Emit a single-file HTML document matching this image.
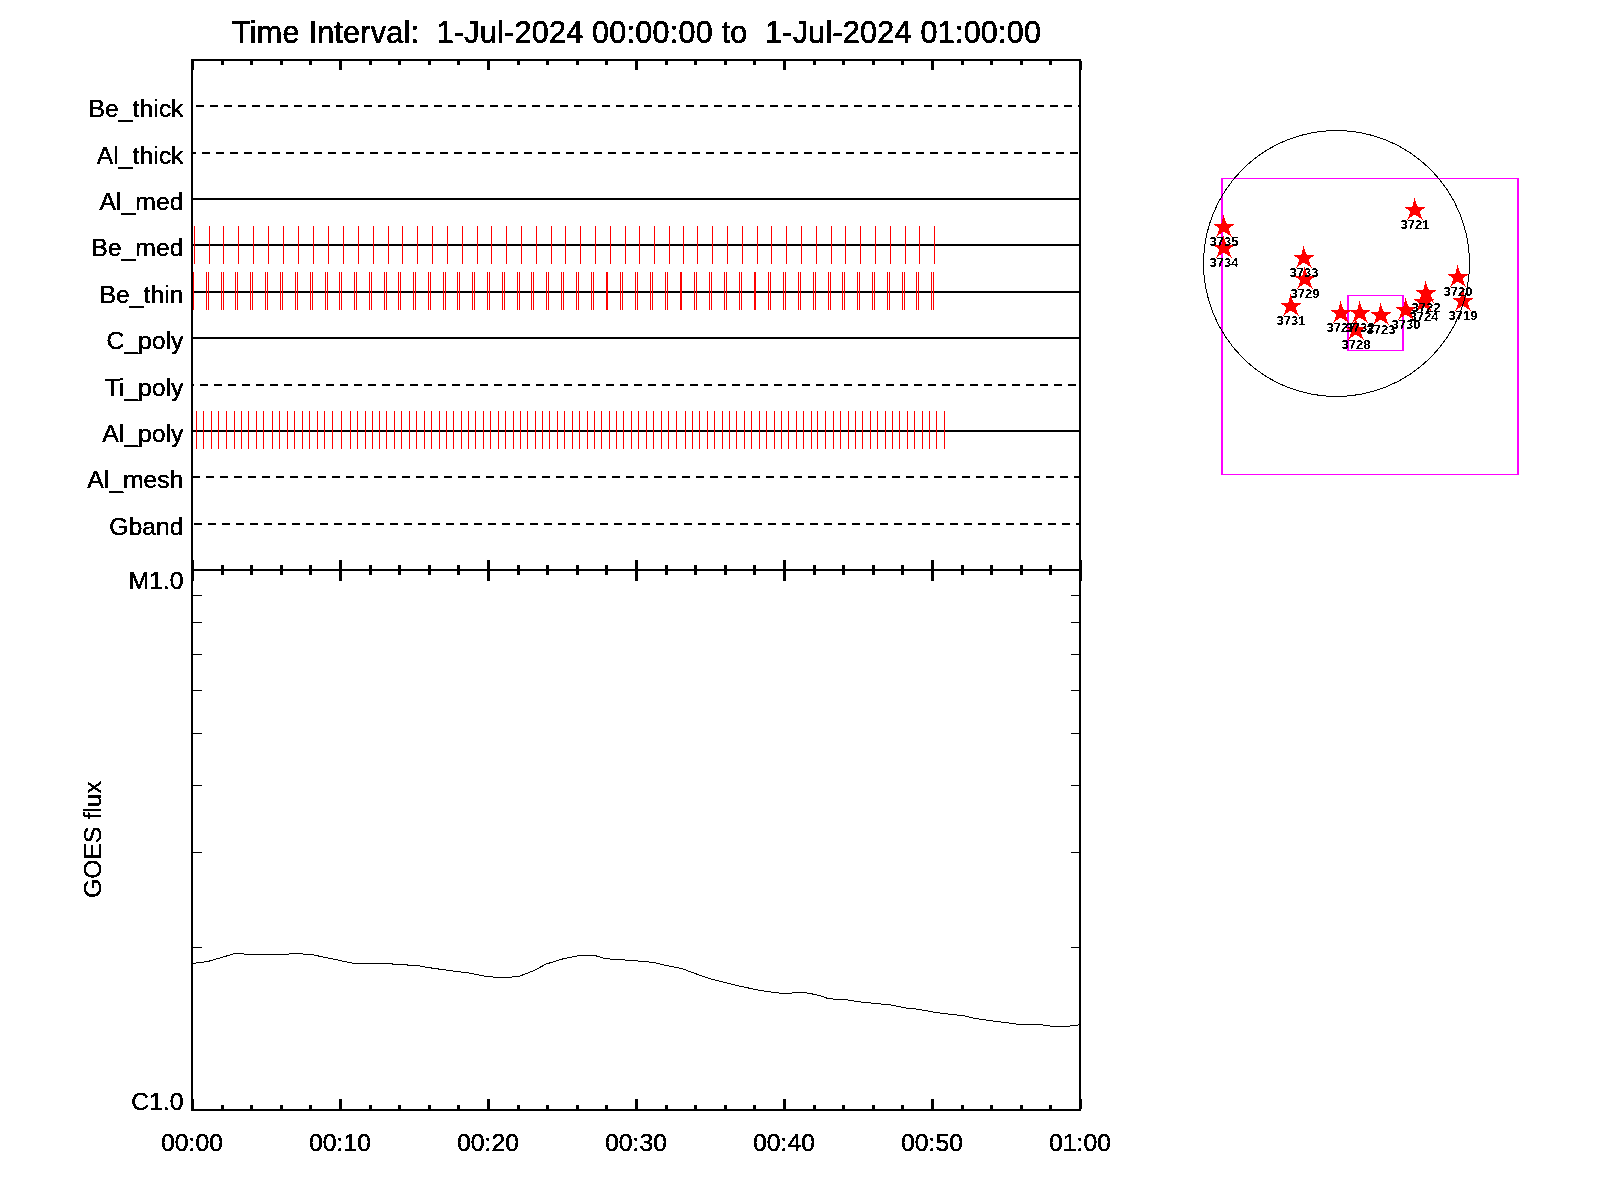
<!DOCTYPE html>
<html><head><meta charset="utf-8"><title>plot</title><style>
html,body{margin:0;padding:0;background:#fff;width:1600px;height:1200px;overflow:hidden}
svg{display:block}
text{font-family:"Liberation Sans",sans-serif;fill:#000;font-variant-ligatures:none;font-feature-settings:"liga" 0}
.title{font-size:30.5px;stroke:#000;stroke-width:0.6px}
.ax{font-size:24.75px;stroke:#000;stroke-width:0.4px}
.lab{font-size:13px;font-weight:bold;text-anchor:middle}
</style></head><body>
<svg width="1600" height="1200" viewBox="0 0 1600 1200">
<rect x="0" y="0" width="1600" height="1200" fill="#fff"/>
<g shape-rendering="crispEdges">
<rect x="191" y="59" width="890" height="2" fill="#000"/>
<rect x="191" y="59" width="2" height="1052" fill="#000"/>
<rect x="1079" y="59" width="2" height="1052" fill="#000"/>
<rect x="191" y="569" width="890" height="2" fill="#000"/>
<rect x="191" y="1109" width="890" height="2" fill="#000"/>
<rect x="191" y="61" width="3" height="9" fill="#000"/>
<rect x="191" y="560" width="3" height="21" fill="#000"/>
<rect x="191" y="1099" width="3" height="10" fill="#000"/>
<rect x="221" y="61" width="3" height="4" fill="#000"/>
<rect x="221" y="565" width="3" height="10" fill="#000"/>
<rect x="221" y="1105" width="3" height="4" fill="#000"/>
<rect x="250" y="61" width="3" height="4" fill="#000"/>
<rect x="250" y="565" width="3" height="10" fill="#000"/>
<rect x="250" y="1105" width="3" height="4" fill="#000"/>
<rect x="280" y="61" width="3" height="4" fill="#000"/>
<rect x="280" y="565" width="3" height="10" fill="#000"/>
<rect x="280" y="1105" width="3" height="4" fill="#000"/>
<rect x="309" y="61" width="3" height="4" fill="#000"/>
<rect x="309" y="565" width="3" height="10" fill="#000"/>
<rect x="309" y="1105" width="3" height="4" fill="#000"/>
<rect x="339" y="61" width="3" height="9" fill="#000"/>
<rect x="339" y="560" width="3" height="21" fill="#000"/>
<rect x="339" y="1099" width="3" height="10" fill="#000"/>
<rect x="369" y="61" width="3" height="4" fill="#000"/>
<rect x="369" y="565" width="3" height="10" fill="#000"/>
<rect x="369" y="1105" width="3" height="4" fill="#000"/>
<rect x="398" y="61" width="3" height="4" fill="#000"/>
<rect x="398" y="565" width="3" height="10" fill="#000"/>
<rect x="398" y="1105" width="3" height="4" fill="#000"/>
<rect x="428" y="61" width="3" height="4" fill="#000"/>
<rect x="428" y="565" width="3" height="10" fill="#000"/>
<rect x="428" y="1105" width="3" height="4" fill="#000"/>
<rect x="457" y="61" width="3" height="4" fill="#000"/>
<rect x="457" y="565" width="3" height="10" fill="#000"/>
<rect x="457" y="1105" width="3" height="4" fill="#000"/>
<rect x="487" y="61" width="3" height="9" fill="#000"/>
<rect x="487" y="560" width="3" height="21" fill="#000"/>
<rect x="487" y="1099" width="3" height="10" fill="#000"/>
<rect x="517" y="61" width="3" height="4" fill="#000"/>
<rect x="517" y="565" width="3" height="10" fill="#000"/>
<rect x="517" y="1105" width="3" height="4" fill="#000"/>
<rect x="546" y="61" width="3" height="4" fill="#000"/>
<rect x="546" y="565" width="3" height="10" fill="#000"/>
<rect x="546" y="1105" width="3" height="4" fill="#000"/>
<rect x="576" y="61" width="3" height="4" fill="#000"/>
<rect x="576" y="565" width="3" height="10" fill="#000"/>
<rect x="576" y="1105" width="3" height="4" fill="#000"/>
<rect x="605" y="61" width="3" height="4" fill="#000"/>
<rect x="605" y="565" width="3" height="10" fill="#000"/>
<rect x="605" y="1105" width="3" height="4" fill="#000"/>
<rect x="635" y="61" width="3" height="9" fill="#000"/>
<rect x="635" y="560" width="3" height="21" fill="#000"/>
<rect x="635" y="1099" width="3" height="10" fill="#000"/>
<rect x="665" y="61" width="3" height="4" fill="#000"/>
<rect x="665" y="565" width="3" height="10" fill="#000"/>
<rect x="665" y="1105" width="3" height="4" fill="#000"/>
<rect x="694" y="61" width="3" height="4" fill="#000"/>
<rect x="694" y="565" width="3" height="10" fill="#000"/>
<rect x="694" y="1105" width="3" height="4" fill="#000"/>
<rect x="724" y="61" width="3" height="4" fill="#000"/>
<rect x="724" y="565" width="3" height="10" fill="#000"/>
<rect x="724" y="1105" width="3" height="4" fill="#000"/>
<rect x="753" y="61" width="3" height="4" fill="#000"/>
<rect x="753" y="565" width="3" height="10" fill="#000"/>
<rect x="753" y="1105" width="3" height="4" fill="#000"/>
<rect x="783" y="61" width="3" height="9" fill="#000"/>
<rect x="783" y="560" width="3" height="21" fill="#000"/>
<rect x="783" y="1099" width="3" height="10" fill="#000"/>
<rect x="813" y="61" width="3" height="4" fill="#000"/>
<rect x="813" y="565" width="3" height="10" fill="#000"/>
<rect x="813" y="1105" width="3" height="4" fill="#000"/>
<rect x="842" y="61" width="3" height="4" fill="#000"/>
<rect x="842" y="565" width="3" height="10" fill="#000"/>
<rect x="842" y="1105" width="3" height="4" fill="#000"/>
<rect x="872" y="61" width="3" height="4" fill="#000"/>
<rect x="872" y="565" width="3" height="10" fill="#000"/>
<rect x="872" y="1105" width="3" height="4" fill="#000"/>
<rect x="901" y="61" width="3" height="4" fill="#000"/>
<rect x="901" y="565" width="3" height="10" fill="#000"/>
<rect x="901" y="1105" width="3" height="4" fill="#000"/>
<rect x="931" y="61" width="3" height="9" fill="#000"/>
<rect x="931" y="560" width="3" height="21" fill="#000"/>
<rect x="931" y="1099" width="3" height="10" fill="#000"/>
<rect x="961" y="61" width="3" height="4" fill="#000"/>
<rect x="961" y="565" width="3" height="10" fill="#000"/>
<rect x="961" y="1105" width="3" height="4" fill="#000"/>
<rect x="990" y="61" width="3" height="4" fill="#000"/>
<rect x="990" y="565" width="3" height="10" fill="#000"/>
<rect x="990" y="1105" width="3" height="4" fill="#000"/>
<rect x="1020" y="61" width="3" height="4" fill="#000"/>
<rect x="1020" y="565" width="3" height="10" fill="#000"/>
<rect x="1020" y="1105" width="3" height="4" fill="#000"/>
<rect x="1049" y="61" width="3" height="4" fill="#000"/>
<rect x="1049" y="565" width="3" height="10" fill="#000"/>
<rect x="1049" y="1105" width="3" height="4" fill="#000"/>
<rect x="1079" y="61" width="3" height="9" fill="#000"/>
<rect x="1079" y="560" width="3" height="21" fill="#000"/>
<rect x="1079" y="1099" width="3" height="10" fill="#000"/>
<rect x="193" y="947" width="9" height="1" fill="#000"/>
<rect x="1071" y="947" width="8" height="1" fill="#000"/>
<rect x="193" y="852" width="9" height="1" fill="#000"/>
<rect x="1071" y="852" width="8" height="1" fill="#000"/>
<rect x="193" y="785" width="9" height="1" fill="#000"/>
<rect x="1071" y="785" width="8" height="1" fill="#000"/>
<rect x="193" y="733" width="9" height="1" fill="#000"/>
<rect x="1071" y="733" width="8" height="1" fill="#000"/>
<rect x="193" y="690" width="9" height="1" fill="#000"/>
<rect x="1071" y="690" width="8" height="1" fill="#000"/>
<rect x="193" y="654" width="9" height="1" fill="#000"/>
<rect x="1071" y="654" width="8" height="1" fill="#000"/>
<rect x="193" y="622" width="9" height="1" fill="#000"/>
<rect x="1071" y="622" width="8" height="1" fill="#000"/>
<rect x="193" y="595" width="9" height="1" fill="#000"/>
<rect x="1071" y="595" width="8" height="1" fill="#000"/>
<rect x="196" y="105" width="8" height="2" fill="#000"/>
<rect x="210" y="105" width="8" height="2" fill="#000"/>
<rect x="224" y="105" width="8" height="2" fill="#000"/>
<rect x="238" y="105" width="8" height="2" fill="#000"/>
<rect x="252" y="105" width="8" height="2" fill="#000"/>
<rect x="266" y="105" width="8" height="2" fill="#000"/>
<rect x="280" y="105" width="8" height="2" fill="#000"/>
<rect x="294" y="105" width="8" height="2" fill="#000"/>
<rect x="308" y="105" width="8" height="2" fill="#000"/>
<rect x="322" y="105" width="8" height="2" fill="#000"/>
<rect x="336" y="105" width="8" height="2" fill="#000"/>
<rect x="350" y="105" width="8" height="2" fill="#000"/>
<rect x="364" y="105" width="8" height="2" fill="#000"/>
<rect x="378" y="105" width="8" height="2" fill="#000"/>
<rect x="392" y="105" width="8" height="2" fill="#000"/>
<rect x="406" y="105" width="8" height="2" fill="#000"/>
<rect x="420" y="105" width="8" height="2" fill="#000"/>
<rect x="434" y="105" width="8" height="2" fill="#000"/>
<rect x="448" y="105" width="8" height="2" fill="#000"/>
<rect x="462" y="105" width="8" height="2" fill="#000"/>
<rect x="476" y="105" width="8" height="2" fill="#000"/>
<rect x="490" y="105" width="8" height="2" fill="#000"/>
<rect x="504" y="105" width="8" height="2" fill="#000"/>
<rect x="518" y="105" width="8" height="2" fill="#000"/>
<rect x="532" y="105" width="8" height="2" fill="#000"/>
<rect x="546" y="105" width="8" height="2" fill="#000"/>
<rect x="560" y="105" width="8" height="2" fill="#000"/>
<rect x="574" y="105" width="8" height="2" fill="#000"/>
<rect x="588" y="105" width="8" height="2" fill="#000"/>
<rect x="602" y="105" width="8" height="2" fill="#000"/>
<rect x="616" y="105" width="8" height="2" fill="#000"/>
<rect x="630" y="105" width="8" height="2" fill="#000"/>
<rect x="644" y="105" width="8" height="2" fill="#000"/>
<rect x="658" y="105" width="8" height="2" fill="#000"/>
<rect x="672" y="105" width="8" height="2" fill="#000"/>
<rect x="686" y="105" width="8" height="2" fill="#000"/>
<rect x="700" y="105" width="8" height="2" fill="#000"/>
<rect x="714" y="105" width="8" height="2" fill="#000"/>
<rect x="728" y="105" width="8" height="2" fill="#000"/>
<rect x="742" y="105" width="8" height="2" fill="#000"/>
<rect x="756" y="105" width="8" height="2" fill="#000"/>
<rect x="770" y="105" width="8" height="2" fill="#000"/>
<rect x="784" y="105" width="8" height="2" fill="#000"/>
<rect x="798" y="105" width="8" height="2" fill="#000"/>
<rect x="812" y="105" width="8" height="2" fill="#000"/>
<rect x="826" y="105" width="8" height="2" fill="#000"/>
<rect x="840" y="105" width="8" height="2" fill="#000"/>
<rect x="854" y="105" width="8" height="2" fill="#000"/>
<rect x="868" y="105" width="8" height="2" fill="#000"/>
<rect x="882" y="105" width="8" height="2" fill="#000"/>
<rect x="896" y="105" width="8" height="2" fill="#000"/>
<rect x="910" y="105" width="8" height="2" fill="#000"/>
<rect x="924" y="105" width="8" height="2" fill="#000"/>
<rect x="938" y="105" width="8" height="2" fill="#000"/>
<rect x="952" y="105" width="8" height="2" fill="#000"/>
<rect x="966" y="105" width="8" height="2" fill="#000"/>
<rect x="980" y="105" width="8" height="2" fill="#000"/>
<rect x="994" y="105" width="8" height="2" fill="#000"/>
<rect x="1008" y="105" width="8" height="2" fill="#000"/>
<rect x="1022" y="105" width="8" height="2" fill="#000"/>
<rect x="1036" y="105" width="8" height="2" fill="#000"/>
<rect x="1050" y="105" width="8" height="2" fill="#000"/>
<rect x="1064" y="105" width="8" height="2" fill="#000"/>
<rect x="1078" y="105" width="1" height="2" fill="#000"/>
<rect x="193" y="152" width="3" height="2" fill="#000"/>
<rect x="202" y="152" width="8" height="2" fill="#000"/>
<rect x="216" y="152" width="8" height="2" fill="#000"/>
<rect x="230" y="152" width="8" height="2" fill="#000"/>
<rect x="244" y="152" width="8" height="2" fill="#000"/>
<rect x="258" y="152" width="8" height="2" fill="#000"/>
<rect x="272" y="152" width="8" height="2" fill="#000"/>
<rect x="286" y="152" width="8" height="2" fill="#000"/>
<rect x="300" y="152" width="8" height="2" fill="#000"/>
<rect x="314" y="152" width="8" height="2" fill="#000"/>
<rect x="328" y="152" width="8" height="2" fill="#000"/>
<rect x="342" y="152" width="8" height="2" fill="#000"/>
<rect x="356" y="152" width="8" height="2" fill="#000"/>
<rect x="370" y="152" width="8" height="2" fill="#000"/>
<rect x="384" y="152" width="8" height="2" fill="#000"/>
<rect x="398" y="152" width="8" height="2" fill="#000"/>
<rect x="412" y="152" width="8" height="2" fill="#000"/>
<rect x="426" y="152" width="8" height="2" fill="#000"/>
<rect x="440" y="152" width="8" height="2" fill="#000"/>
<rect x="454" y="152" width="8" height="2" fill="#000"/>
<rect x="468" y="152" width="8" height="2" fill="#000"/>
<rect x="482" y="152" width="8" height="2" fill="#000"/>
<rect x="496" y="152" width="8" height="2" fill="#000"/>
<rect x="510" y="152" width="8" height="2" fill="#000"/>
<rect x="524" y="152" width="8" height="2" fill="#000"/>
<rect x="538" y="152" width="8" height="2" fill="#000"/>
<rect x="552" y="152" width="8" height="2" fill="#000"/>
<rect x="566" y="152" width="8" height="2" fill="#000"/>
<rect x="580" y="152" width="8" height="2" fill="#000"/>
<rect x="594" y="152" width="8" height="2" fill="#000"/>
<rect x="608" y="152" width="8" height="2" fill="#000"/>
<rect x="622" y="152" width="8" height="2" fill="#000"/>
<rect x="636" y="152" width="8" height="2" fill="#000"/>
<rect x="650" y="152" width="8" height="2" fill="#000"/>
<rect x="664" y="152" width="8" height="2" fill="#000"/>
<rect x="678" y="152" width="8" height="2" fill="#000"/>
<rect x="692" y="152" width="8" height="2" fill="#000"/>
<rect x="706" y="152" width="8" height="2" fill="#000"/>
<rect x="720" y="152" width="8" height="2" fill="#000"/>
<rect x="734" y="152" width="8" height="2" fill="#000"/>
<rect x="748" y="152" width="8" height="2" fill="#000"/>
<rect x="762" y="152" width="8" height="2" fill="#000"/>
<rect x="776" y="152" width="8" height="2" fill="#000"/>
<rect x="790" y="152" width="8" height="2" fill="#000"/>
<rect x="804" y="152" width="8" height="2" fill="#000"/>
<rect x="818" y="152" width="8" height="2" fill="#000"/>
<rect x="832" y="152" width="8" height="2" fill="#000"/>
<rect x="846" y="152" width="8" height="2" fill="#000"/>
<rect x="860" y="152" width="8" height="2" fill="#000"/>
<rect x="874" y="152" width="8" height="2" fill="#000"/>
<rect x="888" y="152" width="8" height="2" fill="#000"/>
<rect x="902" y="152" width="8" height="2" fill="#000"/>
<rect x="916" y="152" width="8" height="2" fill="#000"/>
<rect x="930" y="152" width="8" height="2" fill="#000"/>
<rect x="944" y="152" width="8" height="2" fill="#000"/>
<rect x="958" y="152" width="8" height="2" fill="#000"/>
<rect x="972" y="152" width="8" height="2" fill="#000"/>
<rect x="986" y="152" width="8" height="2" fill="#000"/>
<rect x="1000" y="152" width="8" height="2" fill="#000"/>
<rect x="1014" y="152" width="8" height="2" fill="#000"/>
<rect x="1028" y="152" width="8" height="2" fill="#000"/>
<rect x="1042" y="152" width="8" height="2" fill="#000"/>
<rect x="1056" y="152" width="8" height="2" fill="#000"/>
<rect x="1070" y="152" width="8" height="2" fill="#000"/>
<rect x="193" y="198" width="886" height="2" fill="#000"/>
<rect x="193" y="244" width="886" height="2" fill="#000"/>
<rect x="193" y="291" width="886" height="2" fill="#000"/>
<rect x="193" y="337" width="886" height="2" fill="#000"/>
<rect x="193" y="384" width="1" height="2" fill="#000"/>
<rect x="200" y="384" width="8" height="2" fill="#000"/>
<rect x="214" y="384" width="8" height="2" fill="#000"/>
<rect x="228" y="384" width="8" height="2" fill="#000"/>
<rect x="242" y="384" width="8" height="2" fill="#000"/>
<rect x="256" y="384" width="8" height="2" fill="#000"/>
<rect x="270" y="384" width="8" height="2" fill="#000"/>
<rect x="284" y="384" width="8" height="2" fill="#000"/>
<rect x="298" y="384" width="8" height="2" fill="#000"/>
<rect x="312" y="384" width="8" height="2" fill="#000"/>
<rect x="326" y="384" width="8" height="2" fill="#000"/>
<rect x="340" y="384" width="8" height="2" fill="#000"/>
<rect x="354" y="384" width="8" height="2" fill="#000"/>
<rect x="368" y="384" width="8" height="2" fill="#000"/>
<rect x="382" y="384" width="8" height="2" fill="#000"/>
<rect x="396" y="384" width="8" height="2" fill="#000"/>
<rect x="410" y="384" width="8" height="2" fill="#000"/>
<rect x="424" y="384" width="8" height="2" fill="#000"/>
<rect x="438" y="384" width="8" height="2" fill="#000"/>
<rect x="452" y="384" width="8" height="2" fill="#000"/>
<rect x="466" y="384" width="8" height="2" fill="#000"/>
<rect x="480" y="384" width="8" height="2" fill="#000"/>
<rect x="494" y="384" width="8" height="2" fill="#000"/>
<rect x="508" y="384" width="8" height="2" fill="#000"/>
<rect x="522" y="384" width="8" height="2" fill="#000"/>
<rect x="536" y="384" width="8" height="2" fill="#000"/>
<rect x="550" y="384" width="8" height="2" fill="#000"/>
<rect x="564" y="384" width="8" height="2" fill="#000"/>
<rect x="578" y="384" width="8" height="2" fill="#000"/>
<rect x="592" y="384" width="8" height="2" fill="#000"/>
<rect x="606" y="384" width="8" height="2" fill="#000"/>
<rect x="620" y="384" width="8" height="2" fill="#000"/>
<rect x="634" y="384" width="8" height="2" fill="#000"/>
<rect x="648" y="384" width="8" height="2" fill="#000"/>
<rect x="662" y="384" width="8" height="2" fill="#000"/>
<rect x="676" y="384" width="8" height="2" fill="#000"/>
<rect x="690" y="384" width="8" height="2" fill="#000"/>
<rect x="704" y="384" width="8" height="2" fill="#000"/>
<rect x="718" y="384" width="8" height="2" fill="#000"/>
<rect x="732" y="384" width="8" height="2" fill="#000"/>
<rect x="746" y="384" width="8" height="2" fill="#000"/>
<rect x="760" y="384" width="8" height="2" fill="#000"/>
<rect x="774" y="384" width="8" height="2" fill="#000"/>
<rect x="788" y="384" width="8" height="2" fill="#000"/>
<rect x="802" y="384" width="8" height="2" fill="#000"/>
<rect x="816" y="384" width="8" height="2" fill="#000"/>
<rect x="830" y="384" width="8" height="2" fill="#000"/>
<rect x="844" y="384" width="8" height="2" fill="#000"/>
<rect x="858" y="384" width="8" height="2" fill="#000"/>
<rect x="872" y="384" width="8" height="2" fill="#000"/>
<rect x="886" y="384" width="8" height="2" fill="#000"/>
<rect x="900" y="384" width="8" height="2" fill="#000"/>
<rect x="914" y="384" width="8" height="2" fill="#000"/>
<rect x="928" y="384" width="8" height="2" fill="#000"/>
<rect x="942" y="384" width="8" height="2" fill="#000"/>
<rect x="956" y="384" width="8" height="2" fill="#000"/>
<rect x="970" y="384" width="8" height="2" fill="#000"/>
<rect x="984" y="384" width="8" height="2" fill="#000"/>
<rect x="998" y="384" width="8" height="2" fill="#000"/>
<rect x="1012" y="384" width="8" height="2" fill="#000"/>
<rect x="1026" y="384" width="8" height="2" fill="#000"/>
<rect x="1040" y="384" width="8" height="2" fill="#000"/>
<rect x="1054" y="384" width="8" height="2" fill="#000"/>
<rect x="1068" y="384" width="8" height="2" fill="#000"/>
<rect x="193" y="430" width="886" height="2" fill="#000"/>
<rect x="193" y="476" width="7" height="2" fill="#000"/>
<rect x="206" y="476" width="8" height="2" fill="#000"/>
<rect x="220" y="476" width="8" height="2" fill="#000"/>
<rect x="234" y="476" width="8" height="2" fill="#000"/>
<rect x="248" y="476" width="8" height="2" fill="#000"/>
<rect x="262" y="476" width="8" height="2" fill="#000"/>
<rect x="276" y="476" width="8" height="2" fill="#000"/>
<rect x="290" y="476" width="8" height="2" fill="#000"/>
<rect x="304" y="476" width="8" height="2" fill="#000"/>
<rect x="318" y="476" width="8" height="2" fill="#000"/>
<rect x="332" y="476" width="8" height="2" fill="#000"/>
<rect x="346" y="476" width="8" height="2" fill="#000"/>
<rect x="360" y="476" width="8" height="2" fill="#000"/>
<rect x="374" y="476" width="8" height="2" fill="#000"/>
<rect x="388" y="476" width="8" height="2" fill="#000"/>
<rect x="402" y="476" width="8" height="2" fill="#000"/>
<rect x="416" y="476" width="8" height="2" fill="#000"/>
<rect x="430" y="476" width="8" height="2" fill="#000"/>
<rect x="444" y="476" width="8" height="2" fill="#000"/>
<rect x="458" y="476" width="8" height="2" fill="#000"/>
<rect x="472" y="476" width="8" height="2" fill="#000"/>
<rect x="486" y="476" width="8" height="2" fill="#000"/>
<rect x="500" y="476" width="8" height="2" fill="#000"/>
<rect x="514" y="476" width="8" height="2" fill="#000"/>
<rect x="528" y="476" width="8" height="2" fill="#000"/>
<rect x="542" y="476" width="8" height="2" fill="#000"/>
<rect x="556" y="476" width="8" height="2" fill="#000"/>
<rect x="570" y="476" width="8" height="2" fill="#000"/>
<rect x="584" y="476" width="8" height="2" fill="#000"/>
<rect x="598" y="476" width="8" height="2" fill="#000"/>
<rect x="612" y="476" width="8" height="2" fill="#000"/>
<rect x="626" y="476" width="8" height="2" fill="#000"/>
<rect x="640" y="476" width="8" height="2" fill="#000"/>
<rect x="654" y="476" width="8" height="2" fill="#000"/>
<rect x="668" y="476" width="8" height="2" fill="#000"/>
<rect x="682" y="476" width="8" height="2" fill="#000"/>
<rect x="696" y="476" width="8" height="2" fill="#000"/>
<rect x="710" y="476" width="8" height="2" fill="#000"/>
<rect x="724" y="476" width="8" height="2" fill="#000"/>
<rect x="738" y="476" width="8" height="2" fill="#000"/>
<rect x="752" y="476" width="8" height="2" fill="#000"/>
<rect x="766" y="476" width="8" height="2" fill="#000"/>
<rect x="780" y="476" width="8" height="2" fill="#000"/>
<rect x="794" y="476" width="8" height="2" fill="#000"/>
<rect x="808" y="476" width="8" height="2" fill="#000"/>
<rect x="822" y="476" width="8" height="2" fill="#000"/>
<rect x="836" y="476" width="8" height="2" fill="#000"/>
<rect x="850" y="476" width="8" height="2" fill="#000"/>
<rect x="864" y="476" width="8" height="2" fill="#000"/>
<rect x="878" y="476" width="8" height="2" fill="#000"/>
<rect x="892" y="476" width="8" height="2" fill="#000"/>
<rect x="906" y="476" width="8" height="2" fill="#000"/>
<rect x="920" y="476" width="8" height="2" fill="#000"/>
<rect x="934" y="476" width="8" height="2" fill="#000"/>
<rect x="948" y="476" width="8" height="2" fill="#000"/>
<rect x="962" y="476" width="8" height="2" fill="#000"/>
<rect x="976" y="476" width="8" height="2" fill="#000"/>
<rect x="990" y="476" width="8" height="2" fill="#000"/>
<rect x="1004" y="476" width="8" height="2" fill="#000"/>
<rect x="1018" y="476" width="8" height="2" fill="#000"/>
<rect x="1032" y="476" width="8" height="2" fill="#000"/>
<rect x="1046" y="476" width="8" height="2" fill="#000"/>
<rect x="1060" y="476" width="8" height="2" fill="#000"/>
<rect x="1074" y="476" width="5" height="2" fill="#000"/>
<rect x="194" y="523" width="8" height="2" fill="#000"/>
<rect x="208" y="523" width="8" height="2" fill="#000"/>
<rect x="222" y="523" width="8" height="2" fill="#000"/>
<rect x="236" y="523" width="8" height="2" fill="#000"/>
<rect x="250" y="523" width="8" height="2" fill="#000"/>
<rect x="264" y="523" width="8" height="2" fill="#000"/>
<rect x="278" y="523" width="8" height="2" fill="#000"/>
<rect x="292" y="523" width="8" height="2" fill="#000"/>
<rect x="306" y="523" width="8" height="2" fill="#000"/>
<rect x="320" y="523" width="8" height="2" fill="#000"/>
<rect x="334" y="523" width="8" height="2" fill="#000"/>
<rect x="348" y="523" width="8" height="2" fill="#000"/>
<rect x="362" y="523" width="8" height="2" fill="#000"/>
<rect x="376" y="523" width="8" height="2" fill="#000"/>
<rect x="390" y="523" width="8" height="2" fill="#000"/>
<rect x="404" y="523" width="8" height="2" fill="#000"/>
<rect x="418" y="523" width="8" height="2" fill="#000"/>
<rect x="432" y="523" width="8" height="2" fill="#000"/>
<rect x="446" y="523" width="8" height="2" fill="#000"/>
<rect x="460" y="523" width="8" height="2" fill="#000"/>
<rect x="474" y="523" width="8" height="2" fill="#000"/>
<rect x="488" y="523" width="8" height="2" fill="#000"/>
<rect x="502" y="523" width="8" height="2" fill="#000"/>
<rect x="516" y="523" width="8" height="2" fill="#000"/>
<rect x="530" y="523" width="8" height="2" fill="#000"/>
<rect x="544" y="523" width="8" height="2" fill="#000"/>
<rect x="558" y="523" width="8" height="2" fill="#000"/>
<rect x="572" y="523" width="8" height="2" fill="#000"/>
<rect x="586" y="523" width="8" height="2" fill="#000"/>
<rect x="600" y="523" width="8" height="2" fill="#000"/>
<rect x="614" y="523" width="8" height="2" fill="#000"/>
<rect x="628" y="523" width="8" height="2" fill="#000"/>
<rect x="642" y="523" width="8" height="2" fill="#000"/>
<rect x="656" y="523" width="8" height="2" fill="#000"/>
<rect x="670" y="523" width="8" height="2" fill="#000"/>
<rect x="684" y="523" width="8" height="2" fill="#000"/>
<rect x="698" y="523" width="8" height="2" fill="#000"/>
<rect x="712" y="523" width="8" height="2" fill="#000"/>
<rect x="726" y="523" width="8" height="2" fill="#000"/>
<rect x="740" y="523" width="8" height="2" fill="#000"/>
<rect x="754" y="523" width="8" height="2" fill="#000"/>
<rect x="768" y="523" width="8" height="2" fill="#000"/>
<rect x="782" y="523" width="8" height="2" fill="#000"/>
<rect x="796" y="523" width="8" height="2" fill="#000"/>
<rect x="810" y="523" width="8" height="2" fill="#000"/>
<rect x="824" y="523" width="8" height="2" fill="#000"/>
<rect x="838" y="523" width="8" height="2" fill="#000"/>
<rect x="852" y="523" width="8" height="2" fill="#000"/>
<rect x="866" y="523" width="8" height="2" fill="#000"/>
<rect x="880" y="523" width="8" height="2" fill="#000"/>
<rect x="894" y="523" width="8" height="2" fill="#000"/>
<rect x="908" y="523" width="8" height="2" fill="#000"/>
<rect x="922" y="523" width="8" height="2" fill="#000"/>
<rect x="936" y="523" width="8" height="2" fill="#000"/>
<rect x="950" y="523" width="8" height="2" fill="#000"/>
<rect x="964" y="523" width="8" height="2" fill="#000"/>
<rect x="978" y="523" width="8" height="2" fill="#000"/>
<rect x="992" y="523" width="8" height="2" fill="#000"/>
<rect x="1006" y="523" width="8" height="2" fill="#000"/>
<rect x="1020" y="523" width="8" height="2" fill="#000"/>
<rect x="1034" y="523" width="8" height="2" fill="#000"/>
<rect x="1048" y="523" width="8" height="2" fill="#000"/>
<rect x="1062" y="523" width="8" height="2" fill="#000"/>
<rect x="1076" y="523" width="3" height="2" fill="#000"/>
<rect x="194" y="226" width="1" height="38" fill="#ff0000"/>
<rect x="209" y="226" width="1" height="38" fill="#ff0000"/>
<rect x="223" y="226" width="1" height="38" fill="#ff0000"/>
<rect x="238" y="226" width="1" height="38" fill="#ff0000"/>
<rect x="253" y="226" width="1" height="38" fill="#ff0000"/>
<rect x="268" y="226" width="1" height="38" fill="#ff0000"/>
<rect x="283" y="226" width="1" height="38" fill="#ff0000"/>
<rect x="298" y="226" width="1" height="38" fill="#ff0000"/>
<rect x="313" y="226" width="1" height="38" fill="#ff0000"/>
<rect x="328" y="226" width="1" height="38" fill="#ff0000"/>
<rect x="343" y="226" width="1" height="38" fill="#ff0000"/>
<rect x="358" y="226" width="1" height="38" fill="#ff0000"/>
<rect x="373" y="226" width="1" height="38" fill="#ff0000"/>
<rect x="388" y="226" width="1" height="38" fill="#ff0000"/>
<rect x="402" y="226" width="1" height="38" fill="#ff0000"/>
<rect x="417" y="226" width="1" height="38" fill="#ff0000"/>
<rect x="432" y="226" width="1" height="38" fill="#ff0000"/>
<rect x="447" y="226" width="1" height="38" fill="#ff0000"/>
<rect x="462" y="226" width="1" height="38" fill="#ff0000"/>
<rect x="477" y="226" width="1" height="38" fill="#ff0000"/>
<rect x="491" y="226" width="1" height="38" fill="#ff0000"/>
<rect x="506" y="226" width="1" height="38" fill="#ff0000"/>
<rect x="521" y="226" width="1" height="38" fill="#ff0000"/>
<rect x="536" y="226" width="1" height="38" fill="#ff0000"/>
<rect x="551" y="226" width="1" height="38" fill="#ff0000"/>
<rect x="565" y="226" width="1" height="38" fill="#ff0000"/>
<rect x="580" y="226" width="1" height="38" fill="#ff0000"/>
<rect x="595" y="226" width="1" height="38" fill="#ff0000"/>
<rect x="610" y="226" width="1" height="38" fill="#ff0000"/>
<rect x="625" y="226" width="1" height="38" fill="#ff0000"/>
<rect x="639" y="226" width="1" height="38" fill="#ff0000"/>
<rect x="654" y="226" width="1" height="38" fill="#ff0000"/>
<rect x="669" y="226" width="1" height="38" fill="#ff0000"/>
<rect x="683" y="226" width="1" height="38" fill="#ff0000"/>
<rect x="697" y="226" width="1" height="38" fill="#ff0000"/>
<rect x="712" y="226" width="1" height="38" fill="#ff0000"/>
<rect x="727" y="226" width="1" height="38" fill="#ff0000"/>
<rect x="742" y="226" width="1" height="38" fill="#ff0000"/>
<rect x="757" y="226" width="1" height="38" fill="#ff0000"/>
<rect x="771" y="226" width="1" height="38" fill="#ff0000"/>
<rect x="786" y="226" width="1" height="38" fill="#ff0000"/>
<rect x="801" y="226" width="1" height="38" fill="#ff0000"/>
<rect x="816" y="226" width="1" height="38" fill="#ff0000"/>
<rect x="831" y="226" width="1" height="38" fill="#ff0000"/>
<rect x="845" y="226" width="1" height="38" fill="#ff0000"/>
<rect x="860" y="226" width="1" height="38" fill="#ff0000"/>
<rect x="875" y="226" width="1" height="38" fill="#ff0000"/>
<rect x="890" y="226" width="1" height="38" fill="#ff0000"/>
<rect x="905" y="226" width="1" height="38" fill="#ff0000"/>
<rect x="919" y="226" width="1" height="38" fill="#ff0000"/>
<rect x="934" y="226" width="1" height="38" fill="#ff0000"/>
<rect x="193" y="272" width="1" height="38" fill="#ff0000"/>
<rect x="206" y="272" width="1" height="38" fill="#ff0000"/>
<rect x="208" y="272" width="1" height="38" fill="#ff0000"/>
<rect x="221" y="272" width="1" height="38" fill="#ff0000"/>
<rect x="223" y="272" width="1" height="38" fill="#ff0000"/>
<rect x="235" y="272" width="1" height="38" fill="#ff0000"/>
<rect x="237" y="272" width="1" height="38" fill="#ff0000"/>
<rect x="250" y="272" width="1" height="38" fill="#ff0000"/>
<rect x="252" y="272" width="1" height="38" fill="#ff0000"/>
<rect x="265" y="272" width="1" height="38" fill="#ff0000"/>
<rect x="267" y="272" width="1" height="38" fill="#ff0000"/>
<rect x="280" y="272" width="1" height="38" fill="#ff0000"/>
<rect x="282" y="272" width="1" height="38" fill="#ff0000"/>
<rect x="295" y="272" width="1" height="38" fill="#ff0000"/>
<rect x="297" y="272" width="1" height="38" fill="#ff0000"/>
<rect x="310" y="272" width="1" height="38" fill="#ff0000"/>
<rect x="312" y="272" width="1" height="38" fill="#ff0000"/>
<rect x="325" y="272" width="1" height="38" fill="#ff0000"/>
<rect x="327" y="272" width="1" height="38" fill="#ff0000"/>
<rect x="339" y="272" width="1" height="38" fill="#ff0000"/>
<rect x="341" y="272" width="1" height="38" fill="#ff0000"/>
<rect x="354" y="272" width="1" height="38" fill="#ff0000"/>
<rect x="356" y="272" width="1" height="38" fill="#ff0000"/>
<rect x="369" y="272" width="1" height="38" fill="#ff0000"/>
<rect x="371" y="272" width="1" height="38" fill="#ff0000"/>
<rect x="384" y="272" width="1" height="38" fill="#ff0000"/>
<rect x="386" y="272" width="1" height="38" fill="#ff0000"/>
<rect x="398" y="272" width="1" height="38" fill="#ff0000"/>
<rect x="400" y="272" width="1" height="38" fill="#ff0000"/>
<rect x="413" y="272" width="1" height="38" fill="#ff0000"/>
<rect x="415" y="272" width="1" height="38" fill="#ff0000"/>
<rect x="428" y="272" width="1" height="38" fill="#ff0000"/>
<rect x="430" y="272" width="1" height="38" fill="#ff0000"/>
<rect x="443" y="272" width="1" height="38" fill="#ff0000"/>
<rect x="445" y="272" width="1" height="38" fill="#ff0000"/>
<rect x="457" y="272" width="1" height="38" fill="#ff0000"/>
<rect x="459" y="272" width="1" height="38" fill="#ff0000"/>
<rect x="472" y="272" width="1" height="38" fill="#ff0000"/>
<rect x="474" y="272" width="1" height="38" fill="#ff0000"/>
<rect x="487" y="272" width="1" height="38" fill="#ff0000"/>
<rect x="489" y="272" width="1" height="38" fill="#ff0000"/>
<rect x="502" y="272" width="1" height="38" fill="#ff0000"/>
<rect x="504" y="272" width="1" height="38" fill="#ff0000"/>
<rect x="517" y="272" width="1" height="38" fill="#ff0000"/>
<rect x="519" y="272" width="1" height="38" fill="#ff0000"/>
<rect x="531" y="272" width="1" height="38" fill="#ff0000"/>
<rect x="533" y="272" width="1" height="38" fill="#ff0000"/>
<rect x="546" y="272" width="1" height="38" fill="#ff0000"/>
<rect x="548" y="272" width="1" height="38" fill="#ff0000"/>
<rect x="561" y="272" width="1" height="38" fill="#ff0000"/>
<rect x="563" y="272" width="1" height="38" fill="#ff0000"/>
<rect x="576" y="272" width="1" height="38" fill="#ff0000"/>
<rect x="578" y="272" width="1" height="38" fill="#ff0000"/>
<rect x="591" y="272" width="1" height="38" fill="#ff0000"/>
<rect x="593" y="272" width="1" height="38" fill="#ff0000"/>
<rect x="606" y="272" width="1" height="38" fill="#ff0000"/>
<rect x="607" y="272" width="1" height="38" fill="#ff0000"/>
<rect x="620" y="272" width="1" height="38" fill="#ff0000"/>
<rect x="622" y="272" width="1" height="38" fill="#ff0000"/>
<rect x="635" y="272" width="1" height="38" fill="#ff0000"/>
<rect x="637" y="272" width="1" height="38" fill="#ff0000"/>
<rect x="650" y="272" width="1" height="38" fill="#ff0000"/>
<rect x="652" y="272" width="1" height="38" fill="#ff0000"/>
<rect x="665" y="272" width="1" height="38" fill="#ff0000"/>
<rect x="667" y="272" width="1" height="38" fill="#ff0000"/>
<rect x="680" y="272" width="1" height="38" fill="#ff0000"/>
<rect x="681" y="272" width="1" height="38" fill="#ff0000"/>
<rect x="694" y="272" width="1" height="38" fill="#ff0000"/>
<rect x="696" y="272" width="1" height="38" fill="#ff0000"/>
<rect x="709" y="272" width="1" height="38" fill="#ff0000"/>
<rect x="711" y="272" width="1" height="38" fill="#ff0000"/>
<rect x="724" y="272" width="1" height="38" fill="#ff0000"/>
<rect x="726" y="272" width="1" height="38" fill="#ff0000"/>
<rect x="739" y="272" width="1" height="38" fill="#ff0000"/>
<rect x="741" y="272" width="1" height="38" fill="#ff0000"/>
<rect x="754" y="272" width="1" height="38" fill="#ff0000"/>
<rect x="755" y="272" width="1" height="38" fill="#ff0000"/>
<rect x="768" y="272" width="1" height="38" fill="#ff0000"/>
<rect x="770" y="272" width="1" height="38" fill="#ff0000"/>
<rect x="783" y="272" width="1" height="38" fill="#ff0000"/>
<rect x="785" y="272" width="1" height="38" fill="#ff0000"/>
<rect x="798" y="272" width="1" height="38" fill="#ff0000"/>
<rect x="800" y="272" width="1" height="38" fill="#ff0000"/>
<rect x="813" y="272" width="1" height="38" fill="#ff0000"/>
<rect x="815" y="272" width="1" height="38" fill="#ff0000"/>
<rect x="828" y="272" width="1" height="38" fill="#ff0000"/>
<rect x="830" y="272" width="1" height="38" fill="#ff0000"/>
<rect x="842" y="272" width="1" height="38" fill="#ff0000"/>
<rect x="844" y="272" width="1" height="38" fill="#ff0000"/>
<rect x="857" y="272" width="1" height="38" fill="#ff0000"/>
<rect x="859" y="272" width="1" height="38" fill="#ff0000"/>
<rect x="872" y="272" width="1" height="38" fill="#ff0000"/>
<rect x="874" y="272" width="1" height="38" fill="#ff0000"/>
<rect x="887" y="272" width="1" height="38" fill="#ff0000"/>
<rect x="889" y="272" width="1" height="38" fill="#ff0000"/>
<rect x="902" y="272" width="1" height="38" fill="#ff0000"/>
<rect x="904" y="272" width="1" height="38" fill="#ff0000"/>
<rect x="916" y="272" width="1" height="38" fill="#ff0000"/>
<rect x="918" y="272" width="1" height="38" fill="#ff0000"/>
<rect x="931" y="272" width="1" height="38" fill="#ff0000"/>
<rect x="933" y="272" width="1" height="38" fill="#ff0000"/>
<rect x="196" y="411" width="1" height="38" fill="#ff0000"/>
<rect x="203" y="411" width="1" height="38" fill="#ff0000"/>
<rect x="211" y="411" width="1" height="38" fill="#ff0000"/>
<rect x="218" y="411" width="1" height="38" fill="#ff0000"/>
<rect x="226" y="411" width="1" height="38" fill="#ff0000"/>
<rect x="234" y="411" width="1" height="38" fill="#ff0000"/>
<rect x="241" y="411" width="1" height="38" fill="#ff0000"/>
<rect x="248" y="411" width="1" height="38" fill="#ff0000"/>
<rect x="256" y="411" width="1" height="38" fill="#ff0000"/>
<rect x="263" y="411" width="1" height="38" fill="#ff0000"/>
<rect x="272" y="411" width="1" height="38" fill="#ff0000"/>
<rect x="279" y="411" width="1" height="38" fill="#ff0000"/>
<rect x="287" y="411" width="1" height="38" fill="#ff0000"/>
<rect x="294" y="411" width="1" height="38" fill="#ff0000"/>
<rect x="302" y="411" width="1" height="38" fill="#ff0000"/>
<rect x="309" y="411" width="1" height="38" fill="#ff0000"/>
<rect x="317" y="411" width="1" height="38" fill="#ff0000"/>
<rect x="324" y="411" width="1" height="38" fill="#ff0000"/>
<rect x="332" y="411" width="1" height="38" fill="#ff0000"/>
<rect x="341" y="411" width="1" height="38" fill="#ff0000"/>
<rect x="350" y="411" width="1" height="38" fill="#ff0000"/>
<rect x="357" y="411" width="1" height="38" fill="#ff0000"/>
<rect x="365" y="411" width="1" height="38" fill="#ff0000"/>
<rect x="372" y="411" width="1" height="38" fill="#ff0000"/>
<rect x="379" y="411" width="1" height="38" fill="#ff0000"/>
<rect x="386" y="411" width="1" height="38" fill="#ff0000"/>
<rect x="394" y="411" width="1" height="38" fill="#ff0000"/>
<rect x="401" y="411" width="1" height="38" fill="#ff0000"/>
<rect x="409" y="411" width="1" height="38" fill="#ff0000"/>
<rect x="416" y="411" width="1" height="38" fill="#ff0000"/>
<rect x="424" y="411" width="1" height="38" fill="#ff0000"/>
<rect x="431" y="411" width="1" height="38" fill="#ff0000"/>
<rect x="439" y="411" width="1" height="38" fill="#ff0000"/>
<rect x="446" y="411" width="1" height="38" fill="#ff0000"/>
<rect x="453" y="411" width="1" height="38" fill="#ff0000"/>
<rect x="461" y="411" width="1" height="38" fill="#ff0000"/>
<rect x="468" y="411" width="1" height="38" fill="#ff0000"/>
<rect x="475" y="411" width="1" height="38" fill="#ff0000"/>
<rect x="483" y="411" width="1" height="38" fill="#ff0000"/>
<rect x="490" y="411" width="1" height="38" fill="#ff0000"/>
<rect x="498" y="411" width="1" height="38" fill="#ff0000"/>
<rect x="505" y="411" width="1" height="38" fill="#ff0000"/>
<rect x="513" y="411" width="1" height="38" fill="#ff0000"/>
<rect x="520" y="411" width="1" height="38" fill="#ff0000"/>
<rect x="527" y="411" width="1" height="38" fill="#ff0000"/>
<rect x="535" y="411" width="1" height="38" fill="#ff0000"/>
<rect x="542" y="411" width="1" height="38" fill="#ff0000"/>
<rect x="549" y="411" width="1" height="38" fill="#ff0000"/>
<rect x="557" y="411" width="1" height="38" fill="#ff0000"/>
<rect x="564" y="411" width="1" height="38" fill="#ff0000"/>
<rect x="572" y="411" width="1" height="38" fill="#ff0000"/>
<rect x="579" y="411" width="1" height="38" fill="#ff0000"/>
<rect x="587" y="411" width="1" height="38" fill="#ff0000"/>
<rect x="594" y="411" width="1" height="38" fill="#ff0000"/>
<rect x="601" y="411" width="1" height="38" fill="#ff0000"/>
<rect x="609" y="411" width="1" height="38" fill="#ff0000"/>
<rect x="616" y="411" width="1" height="38" fill="#ff0000"/>
<rect x="623" y="411" width="1" height="38" fill="#ff0000"/>
<rect x="631" y="411" width="1" height="38" fill="#ff0000"/>
<rect x="638" y="411" width="1" height="38" fill="#ff0000"/>
<rect x="646" y="411" width="1" height="38" fill="#ff0000"/>
<rect x="653" y="411" width="1" height="38" fill="#ff0000"/>
<rect x="661" y="411" width="1" height="38" fill="#ff0000"/>
<rect x="668" y="411" width="1" height="38" fill="#ff0000"/>
<rect x="676" y="411" width="1" height="38" fill="#ff0000"/>
<rect x="685" y="411" width="1" height="38" fill="#ff0000"/>
<rect x="692" y="411" width="1" height="38" fill="#ff0000"/>
<rect x="699" y="411" width="1" height="38" fill="#ff0000"/>
<rect x="707" y="411" width="1" height="38" fill="#ff0000"/>
<rect x="714" y="411" width="1" height="38" fill="#ff0000"/>
<rect x="722" y="411" width="1" height="38" fill="#ff0000"/>
<rect x="729" y="411" width="1" height="38" fill="#ff0000"/>
<rect x="736" y="411" width="1" height="38" fill="#ff0000"/>
<rect x="744" y="411" width="1" height="38" fill="#ff0000"/>
<rect x="751" y="411" width="1" height="38" fill="#ff0000"/>
<rect x="759" y="411" width="1" height="38" fill="#ff0000"/>
<rect x="766" y="411" width="1" height="38" fill="#ff0000"/>
<rect x="774" y="411" width="1" height="38" fill="#ff0000"/>
<rect x="781" y="411" width="1" height="38" fill="#ff0000"/>
<rect x="788" y="411" width="1" height="38" fill="#ff0000"/>
<rect x="796" y="411" width="1" height="38" fill="#ff0000"/>
<rect x="803" y="411" width="1" height="38" fill="#ff0000"/>
<rect x="811" y="411" width="1" height="38" fill="#ff0000"/>
<rect x="817" y="411" width="1" height="38" fill="#ff0000"/>
<rect x="825" y="411" width="1" height="38" fill="#ff0000"/>
<rect x="833" y="411" width="1" height="38" fill="#ff0000"/>
<rect x="840" y="411" width="1" height="38" fill="#ff0000"/>
<rect x="848" y="411" width="1" height="38" fill="#ff0000"/>
<rect x="855" y="411" width="1" height="38" fill="#ff0000"/>
<rect x="862" y="411" width="1" height="38" fill="#ff0000"/>
<rect x="870" y="411" width="1" height="38" fill="#ff0000"/>
<rect x="877" y="411" width="1" height="38" fill="#ff0000"/>
<rect x="885" y="411" width="1" height="38" fill="#ff0000"/>
<rect x="892" y="411" width="1" height="38" fill="#ff0000"/>
<rect x="899" y="411" width="1" height="38" fill="#ff0000"/>
<rect x="907" y="411" width="1" height="38" fill="#ff0000"/>
<rect x="914" y="411" width="1" height="38" fill="#ff0000"/>
<rect x="922" y="411" width="1" height="38" fill="#ff0000"/>
<rect x="929" y="411" width="1" height="38" fill="#ff0000"/>
<rect x="936" y="411" width="1" height="38" fill="#ff0000"/>
<rect x="944" y="411" width="1" height="38" fill="#ff0000"/>
<polyline fill="none" stroke="#000" stroke-width="1" points="192,963.5 203,962.25 208.75,961.25 235,953.5 243.75,953.5 244.4,954.5 288.75,954.5 289.4,953.5 302.5,953.5 303.1,954.5 312.5,954.75 352.5,963.1 391.9,963.25 392.5,964.4 406.9,964.4 407.5,965.4 417.5,965.4 426.25,967.25 441.25,969.4 455,971.25 470,973.1 486.25,976.5 496.25,977.25 510,977.25 520,976 533.75,970.6 546.25,964 562.5,959 580,955.4 594.4,955.4 604.4,958.4 613.75,959.4 625,960 643.75,961.5 653.75,962.5 665,965.25 681.25,968.4 700,975.25 712.5,979.4 727.5,983.1 740,986.25 758.1,990 773.75,992.5 781.9,993.25 791.9,993.25 792.5,992.25 802.5,992.25 811.25,993.75 820,995.6 827.5,998.4 836.25,999.4 847.5,1000 862.5,1002.25 881.25,1004 891.25,1005 906.25,1008.1 913.1,1008.5 936.25,1012.5 951.25,1014.4 965,1015.9 975,1018.4 995,1021.25 1010,1023.1 1018.75,1024.4 1042.5,1024.4 1043.75,1025.6 1058.1,1026.5 1068.75,1026.25 1079.4,1024.75"/>
<rect x="1221" y="178" width="298" height="1" fill="#ff00ff"/><rect x="1221" y="474" width="298" height="1" fill="#ff00ff"/><rect x="1221" y="178" width="2" height="297" fill="#ff00ff"/><rect x="1517" y="178" width="2" height="297" fill="#ff00ff"/><rect x="1347" y="295" width="57" height="1" fill="#ff00ff"/><rect x="1347" y="350" width="57" height="1" fill="#ff00ff"/><rect x="1347" y="295" width="2" height="56" fill="#ff00ff"/><rect x="1402" y="295" width="2" height="56" fill="#ff00ff"/>
<rect x="1223" y="215" width="1" height="1" fill="#f00"/><rect x="1223" y="216" width="1" height="1" fill="#f00"/><rect x="1223" y="217" width="1" height="1" fill="#f00"/><rect x="1223" y="218" width="2" height="1" fill="#f00"/><rect x="1222" y="219" width="3" height="1" fill="#f00"/><rect x="1222" y="220" width="3" height="1" fill="#f00"/><rect x="1222" y="221" width="4" height="1" fill="#f00"/><rect x="1222" y="222" width="4" height="1" fill="#f00"/><rect x="1221" y="223" width="6" height="1" fill="#f00"/><rect x="1214" y="224" width="20" height="1" fill="#f00"/><rect x="1215" y="225" width="18" height="1" fill="#f00"/><rect x="1217" y="226" width="14" height="1" fill="#f00"/><rect x="1218" y="227" width="12" height="1" fill="#f00"/><rect x="1219" y="228" width="10" height="1" fill="#f00"/><rect x="1219" y="229" width="10" height="1" fill="#f00"/><rect x="1219" y="230" width="10" height="1" fill="#f00"/><rect x="1218" y="231" width="12" height="1" fill="#f00"/><rect x="1218" y="232" width="4" height="1" fill="#f00"/><rect x="1225" y="232" width="5" height="1" fill="#f00"/><rect x="1218" y="233" width="3" height="1" fill="#f00"/><rect x="1227" y="233" width="3" height="1" fill="#f00"/><rect x="1217" y="234" width="2" height="1" fill="#f00"/><rect x="1228" y="234" width="3" height="1" fill="#f00"/><rect x="1217" y="235" width="1" height="1" fill="#f00"/><rect x="1230" y="235" width="1" height="1" fill="#f00"/><rect x="1216" y="236" width="1" height="1" fill="#f00"/><rect x="1231" y="236" width="1" height="1" fill="#f00"/><rect x="1223" y="236" width="1" height="1" fill="#f00"/><rect x="1223" y="237" width="1" height="1" fill="#f00"/><rect x="1223" y="238" width="1" height="1" fill="#f00"/><rect x="1223" y="239" width="2" height="1" fill="#f00"/><rect x="1222" y="240" width="3" height="1" fill="#f00"/><rect x="1222" y="241" width="3" height="1" fill="#f00"/><rect x="1222" y="242" width="4" height="1" fill="#f00"/><rect x="1222" y="243" width="4" height="1" fill="#f00"/><rect x="1221" y="244" width="6" height="1" fill="#f00"/><rect x="1214" y="245" width="20" height="1" fill="#f00"/><rect x="1215" y="246" width="18" height="1" fill="#f00"/><rect x="1217" y="247" width="14" height="1" fill="#f00"/><rect x="1218" y="248" width="12" height="1" fill="#f00"/><rect x="1219" y="249" width="10" height="1" fill="#f00"/><rect x="1219" y="250" width="10" height="1" fill="#f00"/><rect x="1219" y="251" width="10" height="1" fill="#f00"/><rect x="1218" y="252" width="12" height="1" fill="#f00"/><rect x="1218" y="253" width="4" height="1" fill="#f00"/><rect x="1225" y="253" width="5" height="1" fill="#f00"/><rect x="1218" y="254" width="3" height="1" fill="#f00"/><rect x="1227" y="254" width="3" height="1" fill="#f00"/><rect x="1217" y="255" width="2" height="1" fill="#f00"/><rect x="1228" y="255" width="3" height="1" fill="#f00"/><rect x="1217" y="256" width="1" height="1" fill="#f00"/><rect x="1230" y="256" width="1" height="1" fill="#f00"/><rect x="1216" y="257" width="1" height="1" fill="#f00"/><rect x="1231" y="257" width="1" height="1" fill="#f00"/><rect x="1414" y="198" width="1" height="1" fill="#f00"/><rect x="1414" y="199" width="1" height="1" fill="#f00"/><rect x="1414" y="200" width="1" height="1" fill="#f00"/><rect x="1414" y="201" width="2" height="1" fill="#f00"/><rect x="1413" y="202" width="3" height="1" fill="#f00"/><rect x="1413" y="203" width="3" height="1" fill="#f00"/><rect x="1413" y="204" width="4" height="1" fill="#f00"/><rect x="1413" y="205" width="4" height="1" fill="#f00"/><rect x="1412" y="206" width="6" height="1" fill="#f00"/><rect x="1405" y="207" width="20" height="1" fill="#f00"/><rect x="1406" y="208" width="18" height="1" fill="#f00"/><rect x="1408" y="209" width="14" height="1" fill="#f00"/><rect x="1409" y="210" width="12" height="1" fill="#f00"/><rect x="1410" y="211" width="10" height="1" fill="#f00"/><rect x="1410" y="212" width="10" height="1" fill="#f00"/><rect x="1410" y="213" width="10" height="1" fill="#f00"/><rect x="1409" y="214" width="12" height="1" fill="#f00"/><rect x="1409" y="215" width="4" height="1" fill="#f00"/><rect x="1416" y="215" width="5" height="1" fill="#f00"/><rect x="1409" y="216" width="3" height="1" fill="#f00"/><rect x="1418" y="216" width="3" height="1" fill="#f00"/><rect x="1408" y="217" width="2" height="1" fill="#f00"/><rect x="1419" y="217" width="3" height="1" fill="#f00"/><rect x="1408" y="218" width="1" height="1" fill="#f00"/><rect x="1421" y="218" width="1" height="1" fill="#f00"/><rect x="1407" y="219" width="1" height="1" fill="#f00"/><rect x="1422" y="219" width="1" height="1" fill="#f00"/><rect x="1303" y="246" width="1" height="1" fill="#f00"/><rect x="1303" y="247" width="1" height="1" fill="#f00"/><rect x="1303" y="248" width="1" height="1" fill="#f00"/><rect x="1303" y="249" width="2" height="1" fill="#f00"/><rect x="1302" y="250" width="3" height="1" fill="#f00"/><rect x="1302" y="251" width="3" height="1" fill="#f00"/><rect x="1302" y="252" width="4" height="1" fill="#f00"/><rect x="1302" y="253" width="4" height="1" fill="#f00"/><rect x="1301" y="254" width="6" height="1" fill="#f00"/><rect x="1294" y="255" width="20" height="1" fill="#f00"/><rect x="1295" y="256" width="18" height="1" fill="#f00"/><rect x="1297" y="257" width="14" height="1" fill="#f00"/><rect x="1298" y="258" width="12" height="1" fill="#f00"/><rect x="1299" y="259" width="10" height="1" fill="#f00"/><rect x="1299" y="260" width="10" height="1" fill="#f00"/><rect x="1299" y="261" width="10" height="1" fill="#f00"/><rect x="1298" y="262" width="12" height="1" fill="#f00"/><rect x="1298" y="263" width="4" height="1" fill="#f00"/><rect x="1305" y="263" width="5" height="1" fill="#f00"/><rect x="1298" y="264" width="3" height="1" fill="#f00"/><rect x="1307" y="264" width="3" height="1" fill="#f00"/><rect x="1297" y="265" width="2" height="1" fill="#f00"/><rect x="1308" y="265" width="3" height="1" fill="#f00"/><rect x="1297" y="266" width="1" height="1" fill="#f00"/><rect x="1310" y="266" width="1" height="1" fill="#f00"/><rect x="1296" y="267" width="1" height="1" fill="#f00"/><rect x="1311" y="267" width="1" height="1" fill="#f00"/><rect x="1304" y="267" width="1" height="1" fill="#f00"/><rect x="1304" y="268" width="1" height="1" fill="#f00"/><rect x="1304" y="269" width="1" height="1" fill="#f00"/><rect x="1304" y="270" width="2" height="1" fill="#f00"/><rect x="1303" y="271" width="3" height="1" fill="#f00"/><rect x="1303" y="272" width="3" height="1" fill="#f00"/><rect x="1303" y="273" width="4" height="1" fill="#f00"/><rect x="1303" y="274" width="4" height="1" fill="#f00"/><rect x="1302" y="275" width="6" height="1" fill="#f00"/><rect x="1295" y="276" width="20" height="1" fill="#f00"/><rect x="1296" y="277" width="18" height="1" fill="#f00"/><rect x="1298" y="278" width="14" height="1" fill="#f00"/><rect x="1299" y="279" width="12" height="1" fill="#f00"/><rect x="1300" y="280" width="10" height="1" fill="#f00"/><rect x="1300" y="281" width="10" height="1" fill="#f00"/><rect x="1300" y="282" width="10" height="1" fill="#f00"/><rect x="1299" y="283" width="12" height="1" fill="#f00"/><rect x="1299" y="284" width="4" height="1" fill="#f00"/><rect x="1306" y="284" width="5" height="1" fill="#f00"/><rect x="1299" y="285" width="3" height="1" fill="#f00"/><rect x="1308" y="285" width="3" height="1" fill="#f00"/><rect x="1298" y="286" width="2" height="1" fill="#f00"/><rect x="1309" y="286" width="3" height="1" fill="#f00"/><rect x="1298" y="287" width="1" height="1" fill="#f00"/><rect x="1311" y="287" width="1" height="1" fill="#f00"/><rect x="1297" y="288" width="1" height="1" fill="#f00"/><rect x="1312" y="288" width="1" height="1" fill="#f00"/><rect x="1290" y="294" width="1" height="1" fill="#f00"/><rect x="1290" y="295" width="1" height="1" fill="#f00"/><rect x="1290" y="296" width="1" height="1" fill="#f00"/><rect x="1290" y="297" width="2" height="1" fill="#f00"/><rect x="1289" y="298" width="3" height="1" fill="#f00"/><rect x="1289" y="299" width="3" height="1" fill="#f00"/><rect x="1289" y="300" width="4" height="1" fill="#f00"/><rect x="1289" y="301" width="4" height="1" fill="#f00"/><rect x="1288" y="302" width="6" height="1" fill="#f00"/><rect x="1281" y="303" width="20" height="1" fill="#f00"/><rect x="1282" y="304" width="18" height="1" fill="#f00"/><rect x="1284" y="305" width="14" height="1" fill="#f00"/><rect x="1285" y="306" width="12" height="1" fill="#f00"/><rect x="1286" y="307" width="10" height="1" fill="#f00"/><rect x="1286" y="308" width="10" height="1" fill="#f00"/><rect x="1286" y="309" width="10" height="1" fill="#f00"/><rect x="1285" y="310" width="12" height="1" fill="#f00"/><rect x="1285" y="311" width="4" height="1" fill="#f00"/><rect x="1292" y="311" width="5" height="1" fill="#f00"/><rect x="1285" y="312" width="3" height="1" fill="#f00"/><rect x="1294" y="312" width="3" height="1" fill="#f00"/><rect x="1284" y="313" width="2" height="1" fill="#f00"/><rect x="1295" y="313" width="3" height="1" fill="#f00"/><rect x="1284" y="314" width="1" height="1" fill="#f00"/><rect x="1297" y="314" width="1" height="1" fill="#f00"/><rect x="1283" y="315" width="1" height="1" fill="#f00"/><rect x="1298" y="315" width="1" height="1" fill="#f00"/><rect x="1340" y="301" width="1" height="1" fill="#f00"/><rect x="1340" y="302" width="1" height="1" fill="#f00"/><rect x="1340" y="303" width="1" height="1" fill="#f00"/><rect x="1340" y="304" width="2" height="1" fill="#f00"/><rect x="1339" y="305" width="3" height="1" fill="#f00"/><rect x="1339" y="306" width="3" height="1" fill="#f00"/><rect x="1339" y="307" width="4" height="1" fill="#f00"/><rect x="1339" y="308" width="4" height="1" fill="#f00"/><rect x="1338" y="309" width="6" height="1" fill="#f00"/><rect x="1331" y="310" width="20" height="1" fill="#f00"/><rect x="1332" y="311" width="18" height="1" fill="#f00"/><rect x="1334" y="312" width="14" height="1" fill="#f00"/><rect x="1335" y="313" width="12" height="1" fill="#f00"/><rect x="1336" y="314" width="10" height="1" fill="#f00"/><rect x="1336" y="315" width="10" height="1" fill="#f00"/><rect x="1336" y="316" width="10" height="1" fill="#f00"/><rect x="1335" y="317" width="12" height="1" fill="#f00"/><rect x="1335" y="318" width="4" height="1" fill="#f00"/><rect x="1342" y="318" width="5" height="1" fill="#f00"/><rect x="1335" y="319" width="3" height="1" fill="#f00"/><rect x="1344" y="319" width="3" height="1" fill="#f00"/><rect x="1334" y="320" width="2" height="1" fill="#f00"/><rect x="1345" y="320" width="3" height="1" fill="#f00"/><rect x="1334" y="321" width="1" height="1" fill="#f00"/><rect x="1347" y="321" width="1" height="1" fill="#f00"/><rect x="1333" y="322" width="1" height="1" fill="#f00"/><rect x="1348" y="322" width="1" height="1" fill="#f00"/><rect x="1359" y="301" width="1" height="1" fill="#f00"/><rect x="1359" y="302" width="1" height="1" fill="#f00"/><rect x="1359" y="303" width="1" height="1" fill="#f00"/><rect x="1359" y="304" width="2" height="1" fill="#f00"/><rect x="1358" y="305" width="3" height="1" fill="#f00"/><rect x="1358" y="306" width="3" height="1" fill="#f00"/><rect x="1358" y="307" width="4" height="1" fill="#f00"/><rect x="1358" y="308" width="4" height="1" fill="#f00"/><rect x="1357" y="309" width="6" height="1" fill="#f00"/><rect x="1350" y="310" width="20" height="1" fill="#f00"/><rect x="1351" y="311" width="18" height="1" fill="#f00"/><rect x="1353" y="312" width="14" height="1" fill="#f00"/><rect x="1354" y="313" width="12" height="1" fill="#f00"/><rect x="1355" y="314" width="10" height="1" fill="#f00"/><rect x="1355" y="315" width="10" height="1" fill="#f00"/><rect x="1355" y="316" width="10" height="1" fill="#f00"/><rect x="1354" y="317" width="12" height="1" fill="#f00"/><rect x="1354" y="318" width="4" height="1" fill="#f00"/><rect x="1361" y="318" width="5" height="1" fill="#f00"/><rect x="1354" y="319" width="3" height="1" fill="#f00"/><rect x="1363" y="319" width="3" height="1" fill="#f00"/><rect x="1353" y="320" width="2" height="1" fill="#f00"/><rect x="1364" y="320" width="3" height="1" fill="#f00"/><rect x="1353" y="321" width="1" height="1" fill="#f00"/><rect x="1366" y="321" width="1" height="1" fill="#f00"/><rect x="1352" y="322" width="1" height="1" fill="#f00"/><rect x="1367" y="322" width="1" height="1" fill="#f00"/><rect x="1380" y="303" width="1" height="1" fill="#f00"/><rect x="1380" y="304" width="1" height="1" fill="#f00"/><rect x="1380" y="305" width="1" height="1" fill="#f00"/><rect x="1380" y="306" width="2" height="1" fill="#f00"/><rect x="1379" y="307" width="3" height="1" fill="#f00"/><rect x="1379" y="308" width="3" height="1" fill="#f00"/><rect x="1379" y="309" width="4" height="1" fill="#f00"/><rect x="1379" y="310" width="4" height="1" fill="#f00"/><rect x="1378" y="311" width="6" height="1" fill="#f00"/><rect x="1371" y="312" width="20" height="1" fill="#f00"/><rect x="1372" y="313" width="18" height="1" fill="#f00"/><rect x="1374" y="314" width="14" height="1" fill="#f00"/><rect x="1375" y="315" width="12" height="1" fill="#f00"/><rect x="1376" y="316" width="10" height="1" fill="#f00"/><rect x="1376" y="317" width="10" height="1" fill="#f00"/><rect x="1376" y="318" width="10" height="1" fill="#f00"/><rect x="1375" y="319" width="12" height="1" fill="#f00"/><rect x="1375" y="320" width="4" height="1" fill="#f00"/><rect x="1382" y="320" width="5" height="1" fill="#f00"/><rect x="1375" y="321" width="3" height="1" fill="#f00"/><rect x="1384" y="321" width="3" height="1" fill="#f00"/><rect x="1374" y="322" width="2" height="1" fill="#f00"/><rect x="1385" y="322" width="3" height="1" fill="#f00"/><rect x="1374" y="323" width="1" height="1" fill="#f00"/><rect x="1387" y="323" width="1" height="1" fill="#f00"/><rect x="1373" y="324" width="1" height="1" fill="#f00"/><rect x="1388" y="324" width="1" height="1" fill="#f00"/><rect x="1405" y="298" width="1" height="1" fill="#f00"/><rect x="1405" y="299" width="1" height="1" fill="#f00"/><rect x="1405" y="300" width="1" height="1" fill="#f00"/><rect x="1405" y="301" width="2" height="1" fill="#f00"/><rect x="1404" y="302" width="3" height="1" fill="#f00"/><rect x="1404" y="303" width="3" height="1" fill="#f00"/><rect x="1404" y="304" width="4" height="1" fill="#f00"/><rect x="1404" y="305" width="4" height="1" fill="#f00"/><rect x="1403" y="306" width="6" height="1" fill="#f00"/><rect x="1396" y="307" width="20" height="1" fill="#f00"/><rect x="1397" y="308" width="18" height="1" fill="#f00"/><rect x="1399" y="309" width="14" height="1" fill="#f00"/><rect x="1400" y="310" width="12" height="1" fill="#f00"/><rect x="1401" y="311" width="10" height="1" fill="#f00"/><rect x="1401" y="312" width="10" height="1" fill="#f00"/><rect x="1401" y="313" width="10" height="1" fill="#f00"/><rect x="1400" y="314" width="12" height="1" fill="#f00"/><rect x="1400" y="315" width="4" height="1" fill="#f00"/><rect x="1407" y="315" width="5" height="1" fill="#f00"/><rect x="1400" y="316" width="3" height="1" fill="#f00"/><rect x="1409" y="316" width="3" height="1" fill="#f00"/><rect x="1399" y="317" width="2" height="1" fill="#f00"/><rect x="1410" y="317" width="3" height="1" fill="#f00"/><rect x="1399" y="318" width="1" height="1" fill="#f00"/><rect x="1412" y="318" width="1" height="1" fill="#f00"/><rect x="1398" y="319" width="1" height="1" fill="#f00"/><rect x="1413" y="319" width="1" height="1" fill="#f00"/><rect x="1355" y="318" width="1" height="1" fill="#f00"/><rect x="1355" y="319" width="1" height="1" fill="#f00"/><rect x="1355" y="320" width="1" height="1" fill="#f00"/><rect x="1355" y="321" width="2" height="1" fill="#f00"/><rect x="1354" y="322" width="3" height="1" fill="#f00"/><rect x="1354" y="323" width="3" height="1" fill="#f00"/><rect x="1354" y="324" width="4" height="1" fill="#f00"/><rect x="1354" y="325" width="4" height="1" fill="#f00"/><rect x="1353" y="326" width="6" height="1" fill="#f00"/><rect x="1346" y="327" width="20" height="1" fill="#f00"/><rect x="1347" y="328" width="18" height="1" fill="#f00"/><rect x="1349" y="329" width="14" height="1" fill="#f00"/><rect x="1350" y="330" width="12" height="1" fill="#f00"/><rect x="1351" y="331" width="10" height="1" fill="#f00"/><rect x="1351" y="332" width="10" height="1" fill="#f00"/><rect x="1351" y="333" width="10" height="1" fill="#f00"/><rect x="1350" y="334" width="12" height="1" fill="#f00"/><rect x="1350" y="335" width="4" height="1" fill="#f00"/><rect x="1357" y="335" width="5" height="1" fill="#f00"/><rect x="1350" y="336" width="3" height="1" fill="#f00"/><rect x="1359" y="336" width="3" height="1" fill="#f00"/><rect x="1349" y="337" width="2" height="1" fill="#f00"/><rect x="1360" y="337" width="3" height="1" fill="#f00"/><rect x="1349" y="338" width="1" height="1" fill="#f00"/><rect x="1362" y="338" width="1" height="1" fill="#f00"/><rect x="1348" y="339" width="1" height="1" fill="#f00"/><rect x="1363" y="339" width="1" height="1" fill="#f00"/><rect x="1425" y="281" width="1" height="1" fill="#f00"/><rect x="1425" y="282" width="1" height="1" fill="#f00"/><rect x="1425" y="283" width="1" height="1" fill="#f00"/><rect x="1425" y="284" width="2" height="1" fill="#f00"/><rect x="1424" y="285" width="3" height="1" fill="#f00"/><rect x="1424" y="286" width="3" height="1" fill="#f00"/><rect x="1424" y="287" width="4" height="1" fill="#f00"/><rect x="1424" y="288" width="4" height="1" fill="#f00"/><rect x="1423" y="289" width="6" height="1" fill="#f00"/><rect x="1416" y="290" width="20" height="1" fill="#f00"/><rect x="1417" y="291" width="18" height="1" fill="#f00"/><rect x="1419" y="292" width="14" height="1" fill="#f00"/><rect x="1420" y="293" width="12" height="1" fill="#f00"/><rect x="1421" y="294" width="10" height="1" fill="#f00"/><rect x="1421" y="295" width="10" height="1" fill="#f00"/><rect x="1421" y="296" width="10" height="1" fill="#f00"/><rect x="1420" y="297" width="12" height="1" fill="#f00"/><rect x="1420" y="298" width="4" height="1" fill="#f00"/><rect x="1427" y="298" width="5" height="1" fill="#f00"/><rect x="1420" y="299" width="3" height="1" fill="#f00"/><rect x="1429" y="299" width="3" height="1" fill="#f00"/><rect x="1419" y="300" width="2" height="1" fill="#f00"/><rect x="1430" y="300" width="3" height="1" fill="#f00"/><rect x="1419" y="301" width="1" height="1" fill="#f00"/><rect x="1432" y="301" width="1" height="1" fill="#f00"/><rect x="1418" y="302" width="1" height="1" fill="#f00"/><rect x="1433" y="302" width="1" height="1" fill="#f00"/><rect x="1423" y="290" width="1" height="1" fill="#f00"/><rect x="1423" y="291" width="1" height="1" fill="#f00"/><rect x="1423" y="292" width="1" height="1" fill="#f00"/><rect x="1423" y="293" width="2" height="1" fill="#f00"/><rect x="1422" y="294" width="3" height="1" fill="#f00"/><rect x="1422" y="295" width="3" height="1" fill="#f00"/><rect x="1422" y="296" width="4" height="1" fill="#f00"/><rect x="1422" y="297" width="4" height="1" fill="#f00"/><rect x="1421" y="298" width="6" height="1" fill="#f00"/><rect x="1414" y="299" width="20" height="1" fill="#f00"/><rect x="1415" y="300" width="18" height="1" fill="#f00"/><rect x="1417" y="301" width="14" height="1" fill="#f00"/><rect x="1418" y="302" width="12" height="1" fill="#f00"/><rect x="1419" y="303" width="10" height="1" fill="#f00"/><rect x="1419" y="304" width="10" height="1" fill="#f00"/><rect x="1419" y="305" width="10" height="1" fill="#f00"/><rect x="1418" y="306" width="12" height="1" fill="#f00"/><rect x="1418" y="307" width="4" height="1" fill="#f00"/><rect x="1425" y="307" width="5" height="1" fill="#f00"/><rect x="1418" y="308" width="3" height="1" fill="#f00"/><rect x="1427" y="308" width="3" height="1" fill="#f00"/><rect x="1417" y="309" width="2" height="1" fill="#f00"/><rect x="1428" y="309" width="3" height="1" fill="#f00"/><rect x="1417" y="310" width="1" height="1" fill="#f00"/><rect x="1430" y="310" width="1" height="1" fill="#f00"/><rect x="1416" y="311" width="1" height="1" fill="#f00"/><rect x="1431" y="311" width="1" height="1" fill="#f00"/><rect x="1457" y="265" width="1" height="1" fill="#f00"/><rect x="1457" y="266" width="1" height="1" fill="#f00"/><rect x="1457" y="267" width="1" height="1" fill="#f00"/><rect x="1457" y="268" width="2" height="1" fill="#f00"/><rect x="1456" y="269" width="3" height="1" fill="#f00"/><rect x="1456" y="270" width="3" height="1" fill="#f00"/><rect x="1456" y="271" width="4" height="1" fill="#f00"/><rect x="1456" y="272" width="4" height="1" fill="#f00"/><rect x="1455" y="273" width="6" height="1" fill="#f00"/><rect x="1448" y="274" width="20" height="1" fill="#f00"/><rect x="1449" y="275" width="18" height="1" fill="#f00"/><rect x="1451" y="276" width="14" height="1" fill="#f00"/><rect x="1452" y="277" width="12" height="1" fill="#f00"/><rect x="1453" y="278" width="10" height="1" fill="#f00"/><rect x="1453" y="279" width="10" height="1" fill="#f00"/><rect x="1453" y="280" width="10" height="1" fill="#f00"/><rect x="1452" y="281" width="12" height="1" fill="#f00"/><rect x="1452" y="282" width="4" height="1" fill="#f00"/><rect x="1459" y="282" width="5" height="1" fill="#f00"/><rect x="1452" y="283" width="3" height="1" fill="#f00"/><rect x="1461" y="283" width="3" height="1" fill="#f00"/><rect x="1451" y="284" width="2" height="1" fill="#f00"/><rect x="1462" y="284" width="3" height="1" fill="#f00"/><rect x="1451" y="285" width="1" height="1" fill="#f00"/><rect x="1464" y="285" width="1" height="1" fill="#f00"/><rect x="1450" y="286" width="1" height="1" fill="#f00"/><rect x="1465" y="286" width="1" height="1" fill="#f00"/><rect x="1462" y="289" width="1" height="1" fill="#f00"/><rect x="1462" y="290" width="1" height="1" fill="#f00"/><rect x="1462" y="291" width="1" height="1" fill="#f00"/><rect x="1462" y="292" width="2" height="1" fill="#f00"/><rect x="1461" y="293" width="3" height="1" fill="#f00"/><rect x="1461" y="294" width="3" height="1" fill="#f00"/><rect x="1461" y="295" width="4" height="1" fill="#f00"/><rect x="1461" y="296" width="4" height="1" fill="#f00"/><rect x="1460" y="297" width="6" height="1" fill="#f00"/><rect x="1453" y="298" width="20" height="1" fill="#f00"/><rect x="1454" y="299" width="18" height="1" fill="#f00"/><rect x="1456" y="300" width="14" height="1" fill="#f00"/><rect x="1457" y="301" width="12" height="1" fill="#f00"/><rect x="1458" y="302" width="10" height="1" fill="#f00"/><rect x="1458" y="303" width="10" height="1" fill="#f00"/><rect x="1458" y="304" width="10" height="1" fill="#f00"/><rect x="1457" y="305" width="12" height="1" fill="#f00"/><rect x="1457" y="306" width="4" height="1" fill="#f00"/><rect x="1464" y="306" width="5" height="1" fill="#f00"/><rect x="1457" y="307" width="3" height="1" fill="#f00"/><rect x="1466" y="307" width="3" height="1" fill="#f00"/><rect x="1456" y="308" width="2" height="1" fill="#f00"/><rect x="1467" y="308" width="3" height="1" fill="#f00"/><rect x="1456" y="309" width="1" height="1" fill="#f00"/><rect x="1469" y="309" width="1" height="1" fill="#f00"/><rect x="1455" y="310" width="1" height="1" fill="#f00"/><rect x="1470" y="310" width="1" height="1" fill="#f00"/>
<circle cx="1336.5" cy="263.5" r="133" fill="none" stroke="#000" stroke-width="1"/>
</g>
<filter id="th" x="0" y="0" width="1600" height="1200" filterUnits="userSpaceOnUse"><feComponentTransfer><feFuncA type="discrete" tableValues="0 1"/></feComponentTransfer></filter>
<g filter="url(#th)">
<text x="1224" y="246" class="lab">3735</text><text x="1224" y="267" class="lab">3734</text><text x="1415" y="229" class="lab">3721</text><text x="1304" y="277" class="lab">3733</text><text x="1305" y="298" class="lab">3729</text><text x="1291" y="325" class="lab">3731</text><text x="1341" y="332" class="lab">3727</text><text x="1360" y="332" class="lab">3732</text><text x="1381" y="334" class="lab">3723</text><text x="1406" y="329" class="lab">3730</text><text x="1356" y="349" class="lab">3728</text><text x="1426" y="312" class="lab">3722</text><text x="1424" y="321" class="lab">3724</text><text x="1458" y="296" class="lab">3720</text><text x="1463" y="320" class="lab">3719</text>
<text x="232" y="43" class="title" textLength="809" lengthAdjust="spacing" xml:space="preserve">Time Interval:  1-Jul-2024 00:00:00 to  1-Jul-2024 01:00:00</text>
<text x="183.5" y="117" class="ax" text-anchor="end">Be_thick</text>
<text x="183.5" y="164" class="ax" text-anchor="end">Al_thick</text>
<text x="183.5" y="210" class="ax" text-anchor="end">Al_med</text>
<text x="183.5" y="256" class="ax" text-anchor="end">Be_med</text>
<text x="183.5" y="303" class="ax" text-anchor="end">Be_thin</text>
<text x="183.5" y="349" class="ax" text-anchor="end">C_poly</text>
<text x="183.5" y="396" class="ax" text-anchor="end">Ti_poly</text>
<text x="183.5" y="442" class="ax" text-anchor="end">Al_poly</text>
<text x="183.5" y="488" class="ax" text-anchor="end">Al_mesh</text>
<text x="183.5" y="535" class="ax" text-anchor="end">Gband</text>
<text x="183.5" y="589" class="ax" text-anchor="end">M1.0</text>
<text x="183.5" y="1110" class="ax" text-anchor="end">C1.0</text>
<text x="192" y="1151" class="ax" text-anchor="middle">00:00</text>
<text x="340" y="1151" class="ax" text-anchor="middle">00:10</text>
<text x="488" y="1151" class="ax" text-anchor="middle">00:20</text>
<text x="636" y="1151" class="ax" text-anchor="middle">00:30</text>
<text x="784" y="1151" class="ax" text-anchor="middle">00:40</text>
<text x="932" y="1151" class="ax" text-anchor="middle">00:50</text>
<text x="1080" y="1151" class="ax" text-anchor="middle">01:00</text>
<text transform="translate(101,839.5) rotate(-90)" class="ax" style="stroke-width:0.3px" text-anchor="middle">GOES flux</text>
</g>
</svg>
</body></html>
